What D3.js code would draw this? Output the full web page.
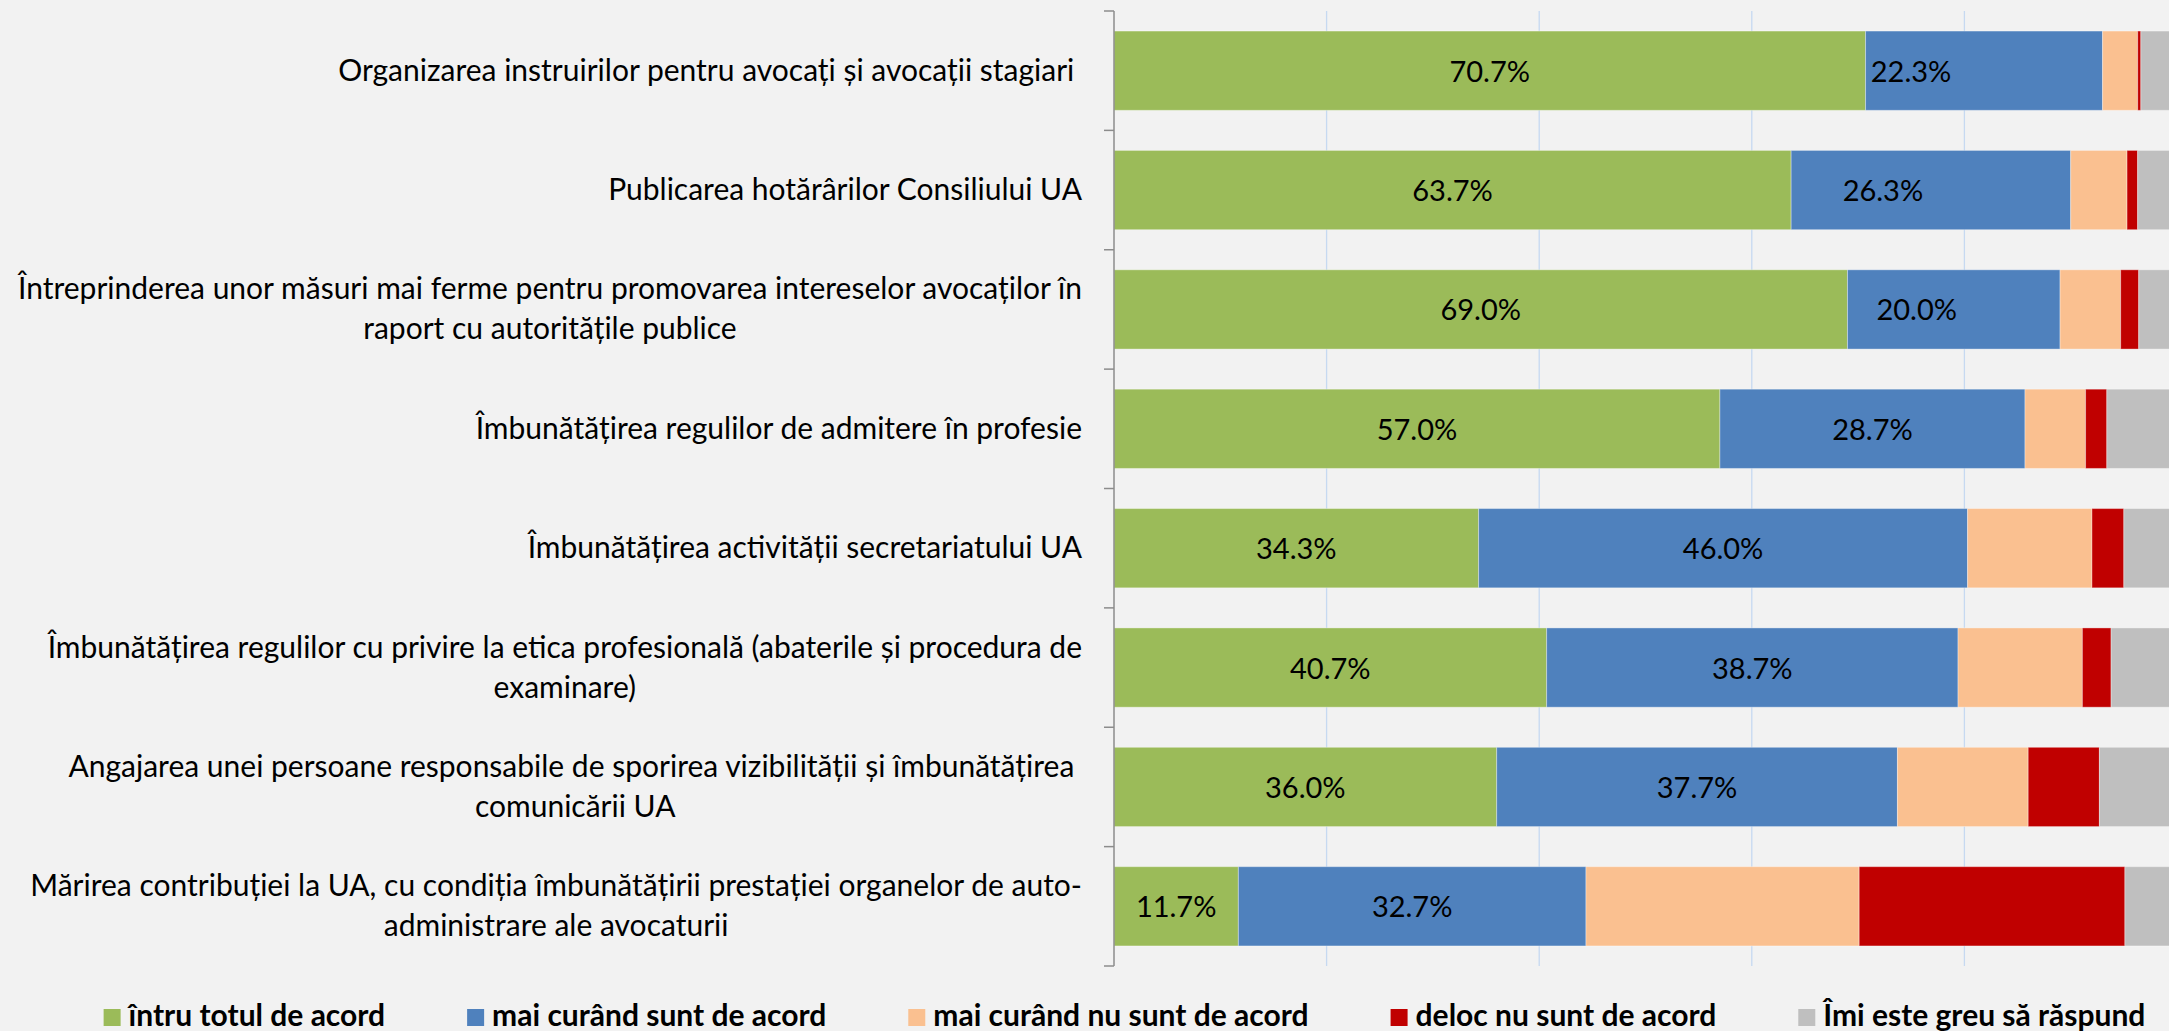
<!DOCTYPE html>
<html>
<head>
<meta charset="utf-8">
<script src="https://cdn.jsdelivr.net/npm/d3@7"></script>
<style>
  html, body { margin: 0; padding: 0; background: #f2f2f2; }
  svg { display: block; }
</style>
</head>
<body>
<script>
// ---------------- DATA ----------------
const categories = [
  "Organizarea instruirilor pentru avocați și avocații stagiari ",
  "Publicarea hotărârilor Consiliului UA",
  "Întreprinderea unor măsuri mai ferme pentru promovarea intereselor avocaților în\nraport cu autoritățile publice",
  "Îmbunătățirea regulilor de admitere în profesie",
  "Îmbunătățirea activității secretariatului UA",
  "Îmbunătățirea regulilor cu privire la etica profesională (abaterile și procedura de\nexaminare)",
  "Angajarea unei persoane responsabile de sporirea vizibilității și îmbunătățirea \ncomunicării UA",
  "Mărirea contribuției la UA, cu condiția îmbunătățirii prestației organelor de auto-\nadministrare ale avocaturii"
];
const seriesNames = [
  "întru totul de acord",
  "mai curând sunt de acord",
  "mai curând nu sunt de acord",
  "deloc nu sunt de acord",
  "Îmi este greu să răspund"
];
const totalAcord     = [70.7, 63.7, 69.0, 57.0, 34.3, 40.7, 36.0, 11.7];
const maiCurandAcord = [22.3, 26.3, 20.0, 28.7, 46.0, 38.7, 37.7, 32.7];
const maiCurandNu    = [3.3, 5.3, 5.7, 5.7, 11.7, 11.7, 12.3, 25.7];
const delocNu        = [0.3, 1.0, 1.7, 2.0, 3.0, 2.7, 6.7, 25.0];
const greuRaspuns    = [3.4, 3.7, 3.6, 6.6, 5.0, 6.2, 7.3, 4.9];
const seriesColors   = ["#9bbb59", "#4f81bd", "#fac090", "#c00000", "#bfbfbf"];
const labeledSeries  = [0, 1];   // series that carry value labels
const gridTicks      = [0.2, 0.4, 0.6, 0.8, 1.0];

// ---------------- LAYOUT ----------------
const W = 2169, H = 1031;
const plotLeft = 1114, plotRight = 2177, plotTop = 11, plotBottom = 966;
const FONT = "Lato, 'Open Sans', sans-serif";

const seriesValues = [totalAcord, maiCurandAcord, maiCurandNu, delocNu, greuRaspuns];
const rows = categories.map((c, i) => {
  const o = { cat: c };
  seriesNames.forEach((s, k) => { o[s] = seriesValues[k][i] / 100; });
  return o;
});
const stacked = d3.stack().keys(seriesNames)(rows);

const svg = d3.select("body").append("svg")
  .attr("width", W).attr("height", H)
  .style("background", "#f2f2f2");

const x = d3.scaleLinear().domain([0, 1]).range([plotLeft, plotRight]);
const y = d3.scaleBand().domain(categories).range([plotTop, plotBottom])
  .paddingInner(0.336).paddingOuter(0.168);

// gridlines
svg.append("g").selectAll("line").data(gridTicks).join("line")
  .attr("x1", d => x(d)).attr("x2", d => x(d))
  .attr("y1", plotTop).attr("y2", plotBottom)
  .attr("stroke", "#c6d9f1").attr("stroke-width", 1.3);

// bars
const color = d3.scaleOrdinal().domain(seriesNames).range(seriesColors);
svg.append("g").selectAll("g").data(stacked).join("g")
  .attr("fill", d => color(d.key))
  .selectAll("rect").data(d => d).join("rect")
  .attr("x", d => x(d[0]))
  .attr("width", d => Math.max(0, x(d[1]) - x(d[0])))
  .attr("y", d => y(d.data.cat))
  .attr("height", y.bandwidth())
  .attr("stroke", "rgba(255,255,255,0.35)").attr("stroke-width", 1);

// value labels (manual shifts reproduce hand-placed labels in the original)
const labelShift = { "0-1": -73, "1-1": -48, "2-1": -37 };
const lbl = [];
labeledSeries.forEach(k => {
  stacked[k].forEach((d, i) => {
    lbl.push({ k, i, d, v: seriesValues[k][i] });
  });
});
svg.append("g").selectAll("text").data(lbl).join("text")
  .attr("x", o => (x(o.d[0]) + x(o.d[1])) / 2 + (labelShift[o.i + "-" + o.k] || 0))
  .attr("y", o => y(o.d.data.cat) + y.bandwidth() / 2 + 11)
  .attr("text-anchor", "middle")
  .attr("font-family", FONT).attr("font-size", 29)
  .attr("fill", "#000")
  .text(o => o.v.toFixed(1) + "%");

// y axis
const yAxisG = svg.append("g");
yAxisG.append("line")
  .attr("x1", plotLeft).attr("x2", plotLeft)
  .attr("y1", plotTop).attr("y2", plotBottom)
  .attr("stroke", "#8c8c8c").attr("stroke-width", 1.5);
const boundaries = d3.range(categories.length + 1).map(i => plotTop + i * y.step());
yAxisG.selectAll("line.tick").data(boundaries).join("line")
  .attr("class", "tick")
  .attr("x1", plotLeft - 10).attr("x2", plotLeft)
  .attr("y1", d => d).attr("y2", d => d)
  .attr("stroke", "#8c8c8c").attr("stroke-width", 1.5);

// category labels
const catRight = 1082, lineH = 40;
const catG = svg.append("g");
categories.forEach(c => {
  const lines = c.split("\n");
  const cy = y(c) + y.bandwidth() / 2;
  const g = catG.append("g");
  const texts = lines.map((ln, j) => g.append("text")
    .attr("font-family", FONT).attr("font-size", 30)
    .attr("fill", "#000")
    .style("white-space", "pre")
    .attr("y", cy + 10 - (lines.length - 1) * lineH / 2 + j * lineH)
    .text(ln));
  const widths = texts.map(t => t.node().getComputedTextLength());
  const maxW = d3.max(widths);
  const center = catRight - maxW / 2;
  texts.forEach((t, j) => {
    if (lines.length === 1) t.attr("x", catRight).attr("text-anchor", "end");
    else t.attr("x", center).attr("text-anchor", "middle");
  });
});

// legend
const legY = 1026, sw = 17, gapTxt = 8, gapItem = 82;
const legG = svg.append("g");
const items = seriesNames.map((s, k) => {
  const g = legG.append("g");
  g.append("rect").attr("width", sw).attr("height", sw)
    .attr("y", legY - sw).attr("fill", seriesColors[k]);
  const t = g.append("text")
    .attr("x", sw + gapTxt).attr("y", legY)
    .attr("font-family", FONT).attr("font-size", 30).attr("font-weight", "bold")
    .attr("fill", "#000").text(s);
  return { g, w: sw + gapTxt + t.node().getComputedTextLength() };
});
const totalW = d3.sum(items, d => d.w) + gapItem * (items.length - 1);
let cx = 1124.5 - totalW / 2;
items.forEach(it => { it.g.attr("transform", `translate(${cx},0)`); cx += it.w + gapItem; });
</script>
</body>
</html>
